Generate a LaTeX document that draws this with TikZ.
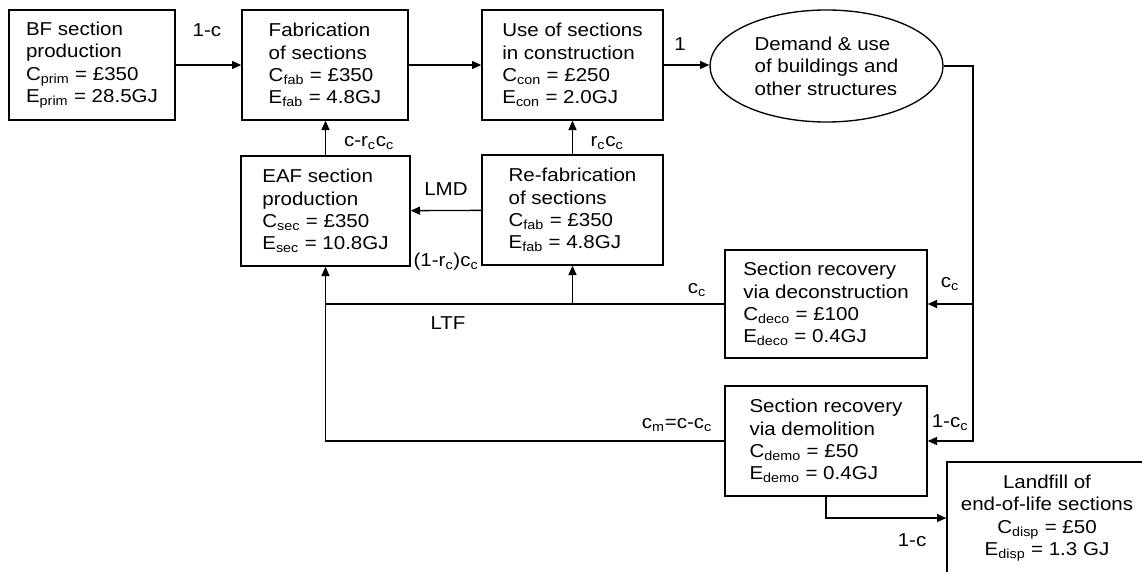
\documentclass[tikz,border=0pt]{standalone}
\usepackage{fontspec}
\setmainfont{Liberation Sans}[FakeStretch=1.1]
\usetikzlibrary{arrows.meta, positioning, shapes.geometric}

\newcommand{\ssub}[1]{\textsubscript{#1}}
\newcommand{\boxfont}{\fontsize{14}{16.8}\selectfont\lineskiplimit-6pt\relax}

\begin{document}
\begin{tikzpicture}[x=0.75pt, y=-0.75pt,
    every node/.style={font=\boxfont},
    box/.style={draw, line width=1pt, align=left, inner sep=0pt, minimum height=82.5pt},
    flow/.style={line width=1pt, -{Triangle[length=7pt, width=6pt]}},
    lbl/.style={inner sep=1pt}]
    \useasboundingbox (0,0) rectangle (1142,571);
    \clip (0,0) rectangle (1142,571);

    \node[box, minimum width=124.5pt]              (bf)    at (92,65)     {BF section\\production\\C\ssub{prim} = £350\\E\ssub{prim} = 28.5GJ};
    \node[box, minimum width=124.5pt]              (fab)   at (325,65)    {Fabrication\\of sections\\C\ssub{fab} = £350\\E\ssub{fab} = 4.8GJ};
    \node[box, minimum width=135.75pt]             (use)   at (572.5,65)  {Use of sections\\ in construction\\C\ssub{con} = £250\\E\ssub{con} = 2.0GJ};
    \node[draw, ellipse, line width=1pt, align=left, inner sep=0pt,
          minimum width=174.75pt, minimum height=84pt] (dem) at (826.5,66) {Demand \& use\\of buildings and\\other structures};
    \node[box, minimum width=126.75pt]             (eaf)   at (325.5,211) {EAF section\\production\\C\ssub{sec} = £350\\E\ssub{sec} = 10.8GJ};
    \node[box, minimum width=135.75pt]             (refab) at (572.5,210) {Re-fabrication\\of sections\\C\ssub{fab} = £350\\E\ssub{fab} = 4.8GJ};
    \node[box, minimum width=151.5pt, minimum height=81pt] (deco) at (826,304) {Section recovery\\via deconstruction\\C\ssub{deco} = £100\\E\ssub{deco} = 0.4GJ};
    \node[box, minimum width=151.5pt]              (demo)  at (826,441)   {Section recovery\\via demolition\\C\ssub{demo} = £50\\E\ssub{demo} = 0.4GJ};
    \node[box, align=center, minimum width=150pt, minimum height=84pt] (land) at (1047,518) {Landfill of\\end-of-life sections\\C\ssub{disp} = £50\\E\ssub{disp} = 1.3 GJ};

    \coordinate (trunk) at (973,66);

    \draw[flow] (bf) -- (fab);
    \draw[flow] (fab) -- (use);
    \draw[flow] (use.east) -- (use.east -| dem.west);
    \draw[flow] (dem.east) -- (trunk) |- (demo.east);
    \draw[flow] (trunk |- deco.east) -- (deco.east);
    \draw[flow] (deco.west) -| (eaf.south);
    \draw[line width=1pt] (demo.west) -| (eaf.south |- deco.west);
    \draw[flow] (refab.south |- deco.west) -- (refab.south);
    \draw[flow] (refab) -- (eaf);
    \draw[flow] (eaf.north) -- (eaf.north |- fab.south);
    \draw[flow] (refab.north) -- (refab.north |- use.south);
    \draw[flow] (demo.south) |- (land.west);

    % flow labels
    \node[lbl] (l bf)    at (207,30)  {1-c};
    \node[lbl] (l use)   at (680,44)  {1};
    \node[lbl] (l eaf)   at (369,143) {c-r\ssub{c}c\ssub{c}};
    \node[lbl] (l refab) at (607,143) {r\ssub{c}c\ssub{c}};
    \node[lbl] (l lmd)   at (446,189) {LMD};
    \node[lbl] (l rc)    at (446,262) {(1-r\ssub{c})c\ssub{c}};
    \node[lbl] (l ltf)   at (448,323) {LTF};
    \node[lbl] (l deco)  at (697,290) {c\ssub{c}};
    \node[lbl] (l demo)  at (677,425) {c\ssub{m}=c-c\ssub{c}};
    \node[lbl] (l cc)    at (950,284) {c\ssub{c}};
    \node[lbl] (l 1cc)   at (950,423) {1-c\ssub{c}};
    \node[lbl] (l land)  at (912,540) {1-c};
\end{tikzpicture}
\end{document}
